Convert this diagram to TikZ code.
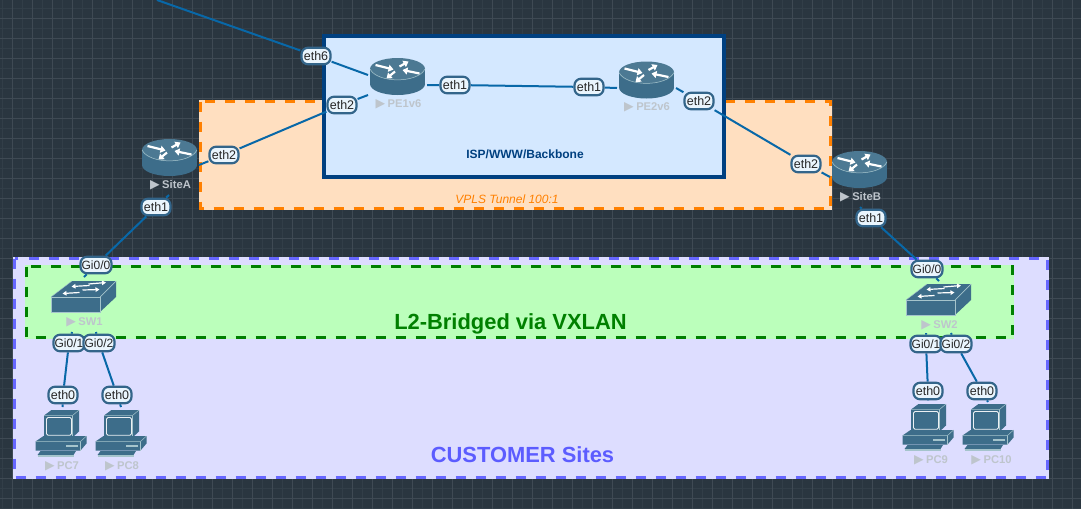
\documentclass[tikz,border=0pt]{standalone}
\usepackage{fontspec}
\setmainfont{Liberation Sans}
\newfontfamily\djv{DejaVu Sans}
\usetikzlibrary{arrows.meta}
\pgfdeclarelayer{bg}
\pgfdeclarelayer{lnk}
\pgfsetlayers{bg,lnk,main}
\definecolor{canvas}{HTML}{2A3640}
\definecolor{gridmajor}{HTML}{3F4A54}
\definecolor{gridminor}{HTML}{323E48}
\definecolor{icon}{HTML}{3D6D8A}
\definecolor{iconedge}{HTML}{A5C4CC}
\definecolor{linkc}{HTML}{0868A8}
\definecolor{tagfill}{HTML}{EAF5FD}
\definecolor{tagedge}{HTML}{33658A}
\definecolor{devtext}{HTML}{BEC5CC}
\definecolor{ispfill}{HTML}{D4E8FF}
\definecolor{ispedge}{HTML}{004080}
\definecolor{vplsfill}{HTML}{FFDFC0}
\definecolor{vplsedge}{HTML}{FF8000}
\definecolor{custfill}{HTML}{DDDDFF}
\definecolor{custedge}{HTML}{6666FF}
\definecolor{l2fill}{HTML}{BBFFBB}
\definecolor{l2edge}{HTML}{008000}
\tikzset{
  devbox/.style={inner sep=0pt,outer sep=0pt,minimum width=#1},
  tag/.style={draw=tagedge,fill=tagfill,line width=2.2pt,rounded corners=6.5pt,text=black!85,
    font=\fontsize{12.5}{14}\selectfont,inner sep=0pt,minimum width=29pt,minimum height=16.5pt},
  gitag/.style={tag,minimum width=31pt,font=\fontsize{12}{14}\selectfont},
  devlabel/.style={text=devtext,font=\bfseries\fontsize{11.2}{13}\selectfont,inner sep=0pt},
  link/.style={draw=linkc,line width=2pt},
  zone/.style={line width=3pt,dash pattern=on 10pt off 10pt},
  arrowwhite/.style={draw=white,line width=2.2pt,-{Triangle[length=5pt,width=7pt]}},
  smallarrow/.style={draw=white,line width=1.2pt,-{Triangle[length=4pt,width=4.5pt]}},
  routericon/.pic={
    \fill[icon] (-27.5,-7.5) rectangle (27.5,7.5);
    \fill[icon] (0,7.5) ellipse [x radius=27.5pt,y radius=11pt];
    \fill[icon!92!white] (0,-7.5) ellipse [x radius=27.5pt,y radius=11pt];
    \draw[iconedge,line width=.5pt] (-27.5,-7.5) .. controls (-20,7) and (20,7) .. (27.5,-7.5);
    \draw[arrowwhite] (-22,-11.5) -- (-4,-7);
    \draw[arrowwhite] (22,-3) -- (5,-6.5);
    \draw[arrowwhite] (2,-10) -- (11,-15);
    \draw[arrowwhite] (-2.5,-5) -- (-11,2);
  },
  switchicon/.pic={
    \fill[icon] (-32.5,.5) -- (-11.5,-15.5) -- (32.5,-15.5) -- (32.5,.5) -- (16.5,15.5) -- (-32.5,15.5) -- cycle;
    \draw[iconedge,line width=.7pt] (-32.5,15.5) -- (-32.5,.5) -- (16.5,.5) -- (16.5,15.5) -- cycle;
    \draw[iconedge,line width=.7pt] (16.5,.5) -- (32.5,-15.5);
    \draw[iconedge,line width=.4pt] (-32.5,.5) -- (-11.5,-15.5);
    \draw[smallarrow] (6,-11) -- (-12,-10);
    \draw[smallarrow] (5,-12.5) -- (22.5,-14);
    \draw[smallarrow] (-4,-4) -- (-21,-3);
    \draw[smallarrow] (-1,-6.5) -- (16,-7);
  },
  pcicon/.pic={
    \fill[icon] (-17.5,-18) -- (-10,-23.5) -- (17.5,-23.5) -- (17.5,-2) -- (11,4) -- (-17.5,4) -- cycle;
    \draw[iconedge,line width=.5pt] (-17.5,-18) -- (11,-18) -- (17.5,-23.5);
    \draw[iconedge,line width=.5pt] (11,-18) -- (11,4);
    \draw[white!90!icon,line width=.8pt,rounded corners=1.5pt] (-15,-16) rectangle (10,1.7);
    \fill[icon] (-26,8) -- (-18,2.5) -- (25,2.5) -- (25,10) -- (19,17) -- (-26,17) -- cycle;
    \draw[iconedge,line width=.5pt] (-26,8) -- (19,8) -- (25,2.5);
    \draw[iconedge,line width=.5pt] (19,8) -- (19,17);
    \fill[iconedge] (4.5,11.7) rectangle (16,13);
    \fill[icon] (-21,17.5) -- (14.5,17.5) -- (12,21.5) -- (-24,21.5) -- cycle;
    \fill[iconedge] (-24,21.5) -- (12,21.5) -- (12,23) -- (-24,23) -- cycle;
  }
}
\newcommand{\devname}[1]{{\djv\fontsize{12.5}{13}\selectfont ▶}\hspace{2.5pt}#1}
\begin{document}
\begin{tikzpicture}[x=1pt,y=-1pt]
\useasboundingbox (0,0) rectangle (1081,509);
\begin{pgfonlayer}{bg}
  \fill[canvas] (0,0) rectangle (1081,509);
  \foreach \gx in {2,22,...,1082} \draw[gridminor,line width=1pt] (\gx,0) -- (\gx,509);
  \foreach \gy in {8,28,...,508} \draw[gridminor,line width=1pt] (0,\gy) -- (1081,\gy);
  \foreach \gx in {12,32,...,1072} \draw[gridmajor,line width=1pt] (\gx,0) -- (\gx,509);
  \foreach \gy in {18,38,...,498} \draw[gridmajor,line width=1pt] (0,\gy) -- (1081,\gy);
  % customer zone
  \fill[custfill] (13,257) rectangle (1049,479);
  \draw[zone,custedge] (14.5,258.5) rectangle (1047.5,477.5);
  % L2 zone
  \fill[l2fill] (25,265) rectangle (1014,339);
  \draw[zone,l2edge] (26.5,266.5) rectangle (1012.5,337.5);
  % VPLS zone
  \fill[vplsfill] (199,100) rectangle (832,210);
  \draw[zone,vplsedge] (200.5,101.5) rectangle (830.5,208.5);
  % ISP box
  \draw[fill=ispfill,draw=ispedge,line width=4pt] (324,36) rectangle (724,177);
\end{pgfonlayer}

% zone captions
\node[anchor=base,text=ispedge,font=\bfseries\fontsize{12}{14}\selectfont,inner sep=0pt] (isptext) at (525,158) {ISP/WWW/Backbone};
\node[anchor=base,text=vplsedge,font=\itshape\fontsize{12}{14}\selectfont,inner sep=0pt] (vplstext) at (507,203) {VPLS Tunnel 100:1};
\node[anchor=base,text=l2edge,font=\bfseries\fontsize{21.9}{24}\selectfont,inner sep=0pt] (l2text) at (510.5,329.5) {L2-Bridged via VXLAN};
\node[anchor=base,text=custedge!90!blue,font=\bfseries\fontsize{21.9}{24}\selectfont,inner sep=0pt] (custtext) at (522.5,462) {CUSTOMER Sites};

% devices
\node[devbox=59pt,minimum height=40pt] (pe1) at (397.5,76.5) {};
\node[devbox=59pt,minimum height=40pt] (pe2) at (646.5,80) {};
\node[devbox=59pt,minimum height=40pt] (sitea) at (169.5,157.5) {};
\node[devbox=59pt,minimum height=40pt] (siteb) at (859.5,169.5) {};
\node[devbox=65pt,minimum height=31pt] (sw1) at (83.5,296.5) {};
\node[devbox=65pt,minimum height=31pt] (sw2) at (938.5,299.5) {};
\node[devbox=51pt,minimum height=47pt] (pc7) at (61.5,433.5) {};
\node[devbox=51pt,minimum height=47pt] (pc8) at (121.5,433.5) {};
\node[devbox=51pt,minimum height=47pt] (pc9) at (928.5,427.5) {};
\node[devbox=51pt,minimum height=47pt] (pc10) at (988.5,427.5) {};
\pic at (pe1) {routericon};
\pic at (pe2) {routericon};
\pic at (sitea) {routericon};
\pic at (siteb) {routericon};
\pic at (sw1) {switchicon};
\pic at (sw2) {switchicon};
\pic at (pc7) {pcicon};
\pic at (pc8) {pcicon};
\pic at (pc9) {pcicon};
\pic at (pc10) {pcicon};

% device names
\node[devlabel] (pe1name) at (398.5,104) {\devname{PE1v6}};
\node[devlabel] (pe2name) at (647,107) {\devname{PE2v6}};
\node[devlabel] (sitename) at (170.5,185) {\devname{SiteA}};
\node[devlabel] (sitebname) at (860.5,197) {\devname{SiteB}};
\node[devlabel] (sw1name) at (84.5,322) {\devname{SW1}};
\node[devlabel] (sw2name) at (939.5,325) {\devname{SW2}};
\node[devlabel] (pc7name) at (62,466) {\devname{PC7}};
\node[devlabel] (pc8name) at (122,466) {\devname{PC8}};
\node[devlabel] (pc9name) at (931,460) {\devname{PC9}};
\node[devlabel] (pc10name) at (991.5,460) {\devname{PC10}};

% interface tags
\node[tag] (pe1e6) at (316,56) {eth6};
\node[tag] (pe1e2) at (342,105) {eth2};
\node[tag] (pe1e1) at (455,85) {eth1};
\node[tag] (pe2e1) at (589,87) {eth1};
\node[tag] (pe2e2) at (699,101) {eth2};
\node[tag] (sbe2) at (806,164) {eth2};
\node[tag] (sbe1) at (871,218) {eth1};
\node[tag] (sae2) at (224,155) {eth2};
\node[tag] (sae1) at (156,207) {eth1};
\node[gitag] (sw1g0) at (96,265) {Gi0/0};
\node[gitag] (sw1g1) at (69,343) {Gi0/1};
\node[gitag] (sw1g2) at (99,343) {Gi0/2};
\node[gitag] (sw2g0) at (927,269) {Gi0/0};
\node[gitag] (sw2g1) at (926,344) {Gi0/1};
\node[gitag] (sw2g2) at (956,344) {Gi0/2};
\node[tag] (pc7e0) at (63,395) {eth0};
\node[tag] (pc8e0) at (117,395) {eth0};
\node[tag] (pc9e0) at (928,391) {eth0};
\node[tag] (pc10e0) at (982,391) {eth0};

\coordinate (offpage) at (157,0);
\begin{pgfonlayer}{lnk}
  \draw[link] (offpage) -- (pe1e6) -- ([shift={(-29.5pt,1.5pt)}]pe1.center);
  \draw[link] ([shift={(29.5pt,-7.5pt)}]sitea.center) -- (sae2) -- (pe1e2) -- ([shift={(-29.5pt,-18.5pt)}]pe1.center);
  \draw[link] ([shift={(29.5pt,-8.5pt)}]pe1.center) -- (pe1e1) -- (pe2e1) -- ([shift={(-29.5pt,-8pt)}]pe2.center);
  \draw[link] ([shift={(29.5pt,-8pt)}]pe2.center) -- (pe2e2) -- (sbe2) -- ([shift={(-29.5pt,-7.5pt)}]siteb.center);
  \draw[link] ([shift={(-.5pt,-37.5pt)}]sitea.center) -- (sae1) -- (sw1g0) -- ([shift={(.5pt,19.5pt)}]sw1.center);
  \draw[link] ([shift={(.5pt,-37.5pt)}]siteb.center) -- (sbe1) -- (sw2g0) -- ([shift={(.5pt,18.5pt)}]sw2.center);
  \draw[link] ([shift={(-11.5pt,-35.5pt)}]sw1.center) -- (sw1g1) -- (pc7e0) -- ([shift={(1pt,26.5pt)}]pc7.center);
  \draw[link] ([shift={(12.5pt,-35.5pt)}]sw1.center) -- (sw1g2) -- (pc8e0) -- ([shift={(-.5pt,26.5pt)}]pc8.center);
  \draw[link] ([shift={(-12.5pt,-33.5pt)}]sw2.center) -- (sw2g1) -- (pc9e0) -- ([shift={(-.5pt,27.5pt)}]pc9.center);
  \draw[link] ([shift={(12.5pt,-33.5pt)}]sw2.center) -- (sw2g2) -- (pc10e0) -- ([shift={(-.5pt,25.5pt)}]pc10.center);
\end{pgfonlayer}
\end{tikzpicture}
\end{document}
